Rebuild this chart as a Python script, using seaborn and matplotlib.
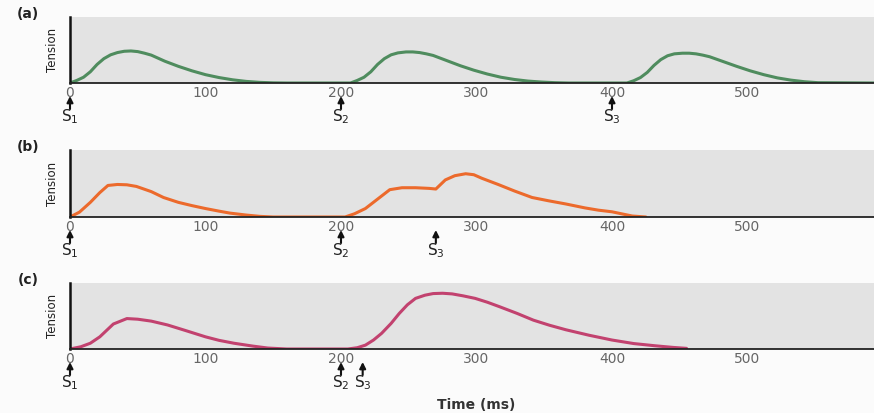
import matplotlib
matplotlib.use("Agg")
import matplotlib.pyplot as plt
import seaborn as sns
import pandas as pd

# ---- data ----
a_time = [0, 5, 10, 15, 20, 25, 30, 35, 40, 45, 50, 55, 60, 70, 80, 90, 100, 110, 120, 130, 140, 150, 160,
          207, 212, 217, 222, 227, 232, 237, 242, 248, 253, 258, 263, 268, 278, 288, 298, 308, 318, 328, 338, 348, 358, 368,
          411, 416, 421, 426, 431, 436, 441, 446, 452, 457, 462, 467, 472, 482, 492, 502, 512, 522, 532, 542, 552, 595]
a_tension = [0, 0.08, 0.18, 0.35, 0.58, 0.76, 0.88, 0.95, 0.99, 1.0, 0.98, 0.93, 0.87, 0.68, 0.52, 0.38, 0.26, 0.17, 0.10, 0.05, 0.02, 0.005, 0,
             0, 0.08, 0.18, 0.35, 0.58, 0.76, 0.88, 0.94, 0.97, 0.97, 0.95, 0.91, 0.86, 0.70, 0.54, 0.40, 0.28, 0.18, 0.11, 0.06, 0.03, 0.01, 0,
             0, 0.07, 0.17, 0.33, 0.55, 0.73, 0.85, 0.91, 0.93, 0.93, 0.91, 0.87, 0.82, 0.67, 0.52, 0.38, 0.26, 0.16, 0.09, 0.04, 0.01, 0]

b_time = [0, 7, 15, 22, 28, 35, 42, 49, 60, 69, 80, 90, 100, 110, 118, 130, 140, 150,
          203, 210, 218, 227, 236, 245, 255, 265, 270, 277, 284, 292, 298, 304, 316, 328, 341, 353, 366, 380, 390, 400, 408, 415, 425]
b_tension = [0, 0.15, 0.45, 0.75, 0.97, 1.0, 0.99, 0.94, 0.78, 0.60, 0.45, 0.35, 0.26, 0.18, 0.12, 0.06, 0.02, 0,
             0, 0.10, 0.26, 0.55, 0.84, 0.90, 0.90, 0.88, 0.86, 1.14, 1.27, 1.33, 1.30, 1.19, 1.0, 0.80, 0.60, 0.50, 0.40, 0.28, 0.21, 0.16, 0.09, 0.03, 0]

c_time = [0, 8, 15, 22, 32, 42, 50, 60, 72, 85, 100, 110, 121, 135, 146, 160,
          205, 212, 218, 224, 230, 237, 243, 249, 255, 262, 268, 275, 282, 290, 299, 308, 317, 330, 342, 354, 366, 383, 400, 416, 432, 445, 455]
c_tension = [0, 0.07, 0.18, 0.38, 0.78, 0.95, 0.93, 0.87, 0.75, 0.58, 0.38, 0.27, 0.18, 0.09, 0.03, 0,
             0, 0.04, 0.12, 0.28, 0.49, 0.80, 1.11, 1.38, 1.58, 1.68, 1.73, 1.74, 1.72, 1.66, 1.58, 1.46, 1.32, 1.11, 0.90, 0.74, 0.60, 0.43, 0.28, 0.17, 0.10, 0.05, 0.02]

panel_labels = ["(a)", "(b)", "(c)"]
stim_times = [[0, 200, 400], [0, 200, 270], [0, 200, 216]]
stim_names = [["S$_1$", "S$_2$", "S$_3$"], ["S$_1$", "S$_2$", "S$_3$"], ["S$_1$", "S$_2$", "S$_3$"]]
x_ticks = [0, 100, 200, 300, 400, 500]
colors = ["#4f8c5e", "#ec6a2c", "#c2426f"]
xlabel = "Time (ms)"
ylabel = "Tension"

traces = [(a_time, a_tension), (b_time, b_tension), (c_time, c_tension)]

# ---- figure ----
sns.set_style("white")
plt.rcParams['font.family'] = ['DejaVu Sans']
W, H = 874, 413
fig = plt.figure(figsize=(W / 100, H / 100), dpi=100, facecolor="#fbfbfb")

left_px = 70
panels_px = [(17, 83), (150, 217), (283, 349)]
xmax = (W - left_px) / 1.355

for i, ((t, v), (top, bot)) in enumerate(zip(traces, panels_px)):
    ax = fig.add_axes([left_px / W, 1 - bot / H, 1 - left_px / W, (bot - top) / H])
    ax.set_facecolor("#e3e3e3")
    df = pd.DataFrame({"time": t, "tension": v})
    sns.lineplot(data=df, x="time", y="tension", ax=ax, color=colors[i], lw=2.2,
                 sort=False, estimator=None)
    ax.set_xlim(0, xmax)
    ax.set_ylim(0, 2.06)
    for s in ["top", "right"]:
        ax.spines[s].set_visible(False)
    ax.spines["left"].set_linewidth(1.8)
    ax.spines["bottom"].set_linewidth(1.3)
    ax.spines["left"].set_color("#111")
    ax.spines["bottom"].set_color("#222")
    ax.set_yticks([])
    ax.set_xticks(x_ticks)
    ax.tick_params(axis="x", direction="in", length=4, width=1, pad=2,
                   labelsize=10, labelcolor="#666", color="#333")
    ax.set_xlabel("")
    ax.set_ylabel(ylabel, fontsize=8.5, labelpad=8, color="#222")
    hpx = bot - top
    ax.text(-42 / (W - left_px) * 1.0, 1.04, panel_labels[i], transform=ax.transAxes,
            fontsize=10, fontweight="bold", color="#222", ha="center", va="center")
    for st, nm in zip(stim_times[i], stim_names[i]):
        ax.annotate("", xy=(st, -13 / hpx), xytext=(st, -26 / hpx),
                    xycoords=("data", "axes fraction"), textcoords=("data", "axes fraction"),
                    arrowprops=dict(arrowstyle="-|>", color="#111", lw=1.5,
                                    mutation_scale=9, shrinkA=0, shrinkB=0),
                    annotation_clip=False)
        ax.text(st, -34 / hpx, nm, transform=ax.get_xaxis_transform(),
                fontsize=11, color="#222", ha="center", va="center")
    if i == 2:
        fig.text(476 / W, 1 - 405 / H, xlabel, fontsize=10, fontweight="bold",
                 color="#333", ha="center", va="center")

fig.savefig("out.png", dpi=100, facecolor=fig.get_facecolor())
